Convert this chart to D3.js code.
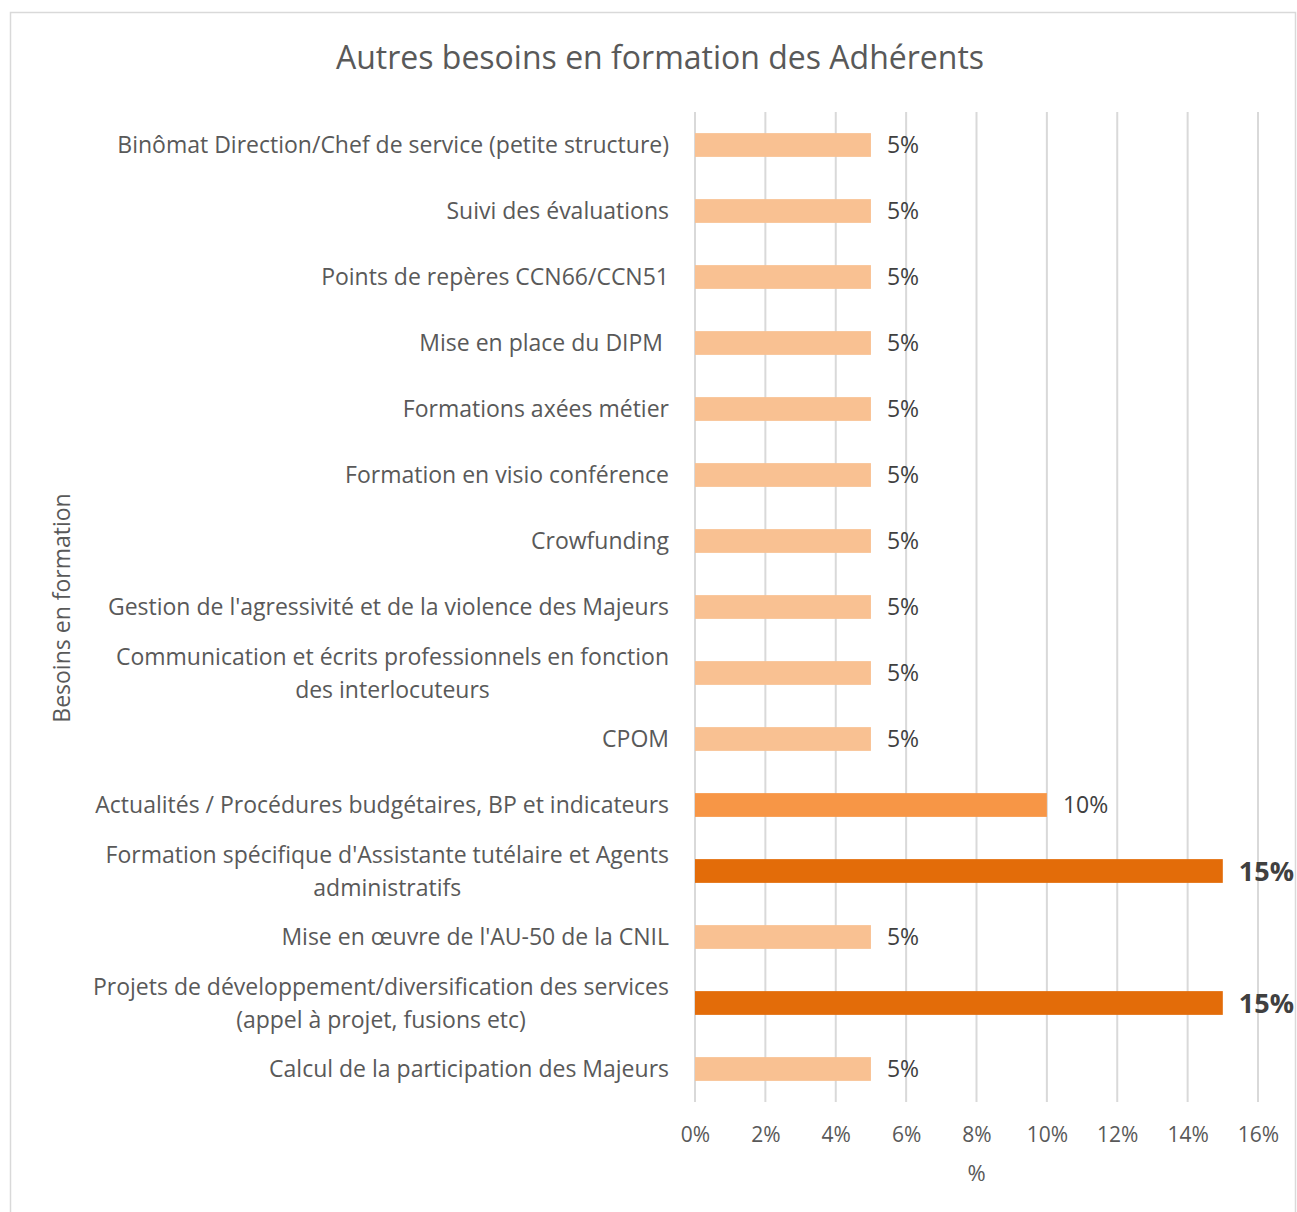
<!DOCTYPE html>
<html>
<head>
<meta charset="utf-8">
<script src="https://cdn.jsdelivr.net/npm/d3@7"></script>
<style>
  body { margin: 0; background: #fff; }
  text { font-family: 'Open Sans', sans-serif; }
</style>
</head>
<body>
<svg id="chart"></svg>
<script>
// chart data, top to bottom
var categories = [
  'Binômat Direction/Chef de service (petite structure)',
  'Suivi des évaluations',
  'Points de repères CCN66/CCN51',
  'Mise en place du DIPM ',
  'Formations axées métier',
  'Formation en visio conférence',
  'Crowfunding',
  "Gestion de l'agressivité et de la violence des Majeurs",
  'Communication et écrits professionnels en fonction\ndes interlocuteurs',
  'CPOM',
  'Actualités / Procédures budgétaires, BP et indicateurs',
  "Formation spécifique d'Assistante tutélaire et Agents\nadministratifs",
  "Mise en œuvre de l'AU-50 de la CNIL",
  'Projets de développement/diversification des services\n(appel à projet, fusions etc)',
  'Calcul de la participation des Majeurs'
];
var values = [5, 5, 5, 5, 5, 5, 5, 5, 5, 5, 10, 15, 5, 15, 5];
var x_ticks = [0, 2, 4, 6, 8, 10, 12, 14, 16];

var svg_width = 1297,
  svg_height = 1212,
  plot_left = 695,
  plot_right = 1258,
  plot_top = 112,
  plot_bottom = 1102;

var svg = d3.select('#chart')
  .attr('width', svg_width)
  .attr('height', svg_height);

// outer frame
svg.append('rect')
  .attr('x', 10.5).attr('y', 12.5)
  .attr('width', 1285).attr('height', 1210)
  .attr('fill', 'none')
  .attr('stroke', '#d9d9d9')
  .attr('stroke-width', 1.5);

var x = d3.scaleLinear().domain([0, 16]).range([plot_left, plot_right]);
var y = d3.scaleBand().domain(categories).range([plot_top, plot_bottom]).paddingInner(0.64).paddingOuter(0.32);

var color = d3.scaleOrdinal().domain([5, 10, 15]).range(['#f9c192', '#f79646', '#e36c09']);

// title
svg.append('text')
  .attr('x', 660).attr('y', 69)
  .attr('text-anchor', 'middle')
  .attr('fill', '#595959')
  .style('font-size', '32px')
  .text('Autres besoins en formation des Adhérents');

// grid
svg.append('g')
  .selectAll('line')
  .data(x_ticks)
  .enter()
  .append('line')
  .attr('x1', function(d) { return x(d); })
  .attr('x2', function(d) { return x(d); })
  .attr('y1', plot_top)
  .attr('y2', plot_bottom)
  .attr('stroke', '#d9d9d9')
  .attr('stroke-width', 2);

// x axis
var x_axis = svg.append('g')
  .attr('transform', 'translate(0,' + plot_bottom + ')')
  .call(d3.axisBottom(x).tickValues(x_ticks).tickSize(0).tickPadding(25).tickFormat(function(d) { return d + '%'; }));
x_axis.select('.domain').remove();
x_axis.selectAll('text')
  .attr('fill', '#595959')
  .style('font-size', '21px')
  .style('font-family', "'Open Sans', sans-serif");

svg.append('text')
  .attr('x', x(8)).attr('y', 1181)
  .attr('text-anchor', 'middle')
  .attr('fill', '#595959')
  .style('font-size', '22px')
  .text('%');

svg.append('text')
  .attr('transform', 'translate(70,608) rotate(-90)')
  .attr('text-anchor', 'middle')
  .attr('fill', '#595959')
  .style('font-size', '23px')
  .text('Besoins en formation');

// bars
svg.append('g')
  .selectAll('rect')
  .data(values)
  .enter()
  .append('rect')
  .attr('x', x(0))
  .attr('y', function(d, i) { return y(categories[i]); })
  .attr('width', function(d) { return x(d) - x(0); })
  .attr('height', y.bandwidth())
  .attr('fill', function(d) { return color(d); });

// value labels
svg.append('g')
  .selectAll('text')
  .data(values)
  .enter()
  .append('text')
  .attr('x', function(d) { return x(d) + 16; })
  .attr('y', function(d, i) { return y(categories[i]) + y.bandwidth() / 2; })
  .attr('dy', '0.36em')
  .attr('fill', '#404040')
  .style('font-size', function(d) { return d === 15 ? '27px' : '23px'; })
  .style('font-weight', function(d) { return d === 15 ? 'bold' : 'normal'; })
  .text(function(d) { return d + '%'; });

// category labels, multi line blocks centered on each other
var cat_g = svg.append('g')
  .selectAll('g')
  .data(categories)
  .enter()
  .append('g')
  .attr('transform', function(d) { return 'translate(669,' + (y(d) + y.bandwidth() / 2) + ')'; });

cat_g.each(function(d) {
  var g = d3.select(this);
  var lines = d.split('\n');
  var t = g.append('text')
    .attr('fill', '#595959')
    .style('font-size', '23px')
    .attr('text-anchor', lines.length > 1 ? 'middle' : 'end');
  lines.forEach(function(line, k) {
    t.append('tspan')
      .attr('x', 0)
      .attr('y', (k - (lines.length - 1) / 2) * 33)
      .attr('dy', '0.36em')
      .style('white-space', 'pre')
      .text(line);
  });
  if (lines.length > 1) {
    var w = t.node().getBBox().width;
    t.attr('transform', 'translate(' + (-w / 2) + ',0)');
  }
});
</script>
</body>
</html>
